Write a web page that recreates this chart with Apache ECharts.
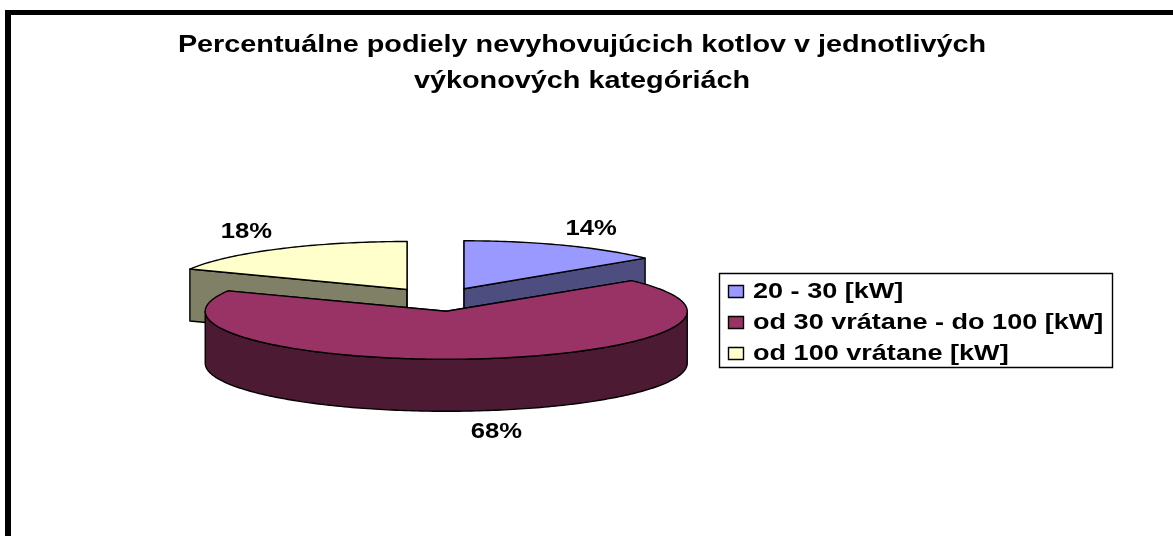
<!DOCTYPE html>
<html>
<head>
<meta charset="utf-8">
<style>html,body{margin:0;padding:0;background:#fff}#c{width:1173px;height:536px}</style>
<script src="https://cdn.jsdelivr.net/npm/echarts@6/dist/echarts.min.js"></script>
</head>
<body>
<div id="c"></div>
<script>
const categories = ['20 - 30 [kW]', 'od 30 vrátane - do 100 [kW]', 'od 100 vrátane [kW]'];
const values = [14, 68, 18];
const topColors = ['#9999FF', '#993366', '#FFFFCC'];
const sideColors = ['#4D4D80', '#4D1A33', '#808066'];
const titleLines = ['Percentuálne podiely nevyhovujúcich kotlov v jednotlivých', 'výkonových kategóriách'];
const labelShift = [[27, -18], [20, 20], [-32, -18]];
const sliceRadiusX = [235, 241, 240];

const CX = 438.8, CY = 299.5, RX = 240, RY = 48, DEPTH = 52, EXPLODE = 0.247;
const FAMILY = '"Liberation Sans", Arial, sans-serif';
const total = values.reduce((a, b) => a + b, 0);
const rad = d => d * Math.PI / 180;

function renderSlice(params, api) {
  const i = params.seriesIndex;
  const v = api.value(0);
  let before = 0;
  for (let k = 0; k < i; k++) before += values[k];
  const a0 = -90 + before / total * 360;
  const a1 = a0 + v / total * 360;
  const mid = (a0 + a1) / 2;
  const ox = CX + EXPLODE * RX * Math.cos(rad(mid));
  const oy = CY + EXPLODE * RY * Math.sin(rad(mid));
  const rx = sliceRadiusX[i];
  const pt = (t, d) => [ox + rx * Math.cos(rad(t)), oy + RY * Math.sin(rad(t)) + (d || 0)];
  const base = { stroke: '#000', lineWidth: 1.4, lineJoin: 'round' };
  const children = [];
  const face = (pts, fill) => children.push({ type: 'polygon', shape: { points: pts }, style: Object.assign({ fill: fill }, base) });

  face([[ox, oy], pt(a0), pt(a0, DEPTH), [ox, oy + DEPTH]], sideColors[i]);
  face([[ox, oy], pt(a1), pt(a1, DEPTH), [ox, oy + DEPTH]], sideColors[i]);

  const s = Math.max(a0, 0), e = Math.min(a1, 180);
  if (e > s) {
    const top = [], bottom = [];
    for (let t = s; t <= e; t += 1) { top.push(pt(t)); bottom.unshift(pt(t, DEPTH)); }
    face(top.concat(bottom), sideColors[i]);
  }
  const wedge = [[ox, oy]];
  for (let t = a0; t < a1; t += 1) wedge.push(pt(t));
  wedge.push(pt(a1));
  face(wedge, topColors[i]);

  const edge = pt(mid, mid > 0 && mid < 180 ? DEPTH : 0);
  children.push({
    type: 'text',
    x: edge[0] + labelShift[i][0], y: edge[1] + labelShift[i][1] + 1, scaleX: 1.14,
    style: {
      text: v + '%', x: 0, y: 0, align: 'center', verticalAlign: 'middle',
      font: 'bold 22.5px ' + FAMILY, fill: '#000'
    }
  });
  return { type: 'group', children: children };
}

const graphics = [
  { type: 'rect', shape: { x: 5, y: 10, width: 6, height: 526 }, style: { fill: '#000' } },
  { type: 'rect', shape: { x: 5, y: 10, width: 1168, height: 5 }, style: { fill: '#000' } },
  { type: 'rect', z: 10, shape: { x: 719.5, y: 273.5, width: 393, height: 94 }, style: { fill: '#fff', stroke: '#000', lineWidth: 1.4 } }
];
titleLines.forEach((line, i) => graphics.push({
  type: 'text', z: 10, x: 582, y: 45 + i * 36, scaleX: 1.2,
  style: { text: line, x: 0, y: 0, align: 'center', verticalAlign: 'middle', font: 'bold 24px ' + FAMILY, fill: '#000' }
}));
categories.forEach((name, i) => {
  const y = 292 + i * 31;
  graphics.push({ type: 'rect', z: 11, shape: { x: 728.5, y: y - 6.5, width: 15, height: 12 }, style: { fill: topColors[i], stroke: '#000', lineWidth: 1.4 } });
  graphics.push({
    type: 'text', z: 11, x: 753, y: y, scaleX: 1.23,
    style: { text: name, x: 0, y: 0, align: 'left', verticalAlign: 'middle', font: 'bold 22px ' + FAMILY, fill: '#000' }
  });
});

const chart = echarts.init(document.getElementById('c'), null, { renderer: 'canvas' });
chart.setOption({
  animation: false,
  backgroundColor: '#fff',
  graphic: graphics,
  series: categories.map((name, i) => ({
    type: 'custom', name: name, coordinateSystem: 'none', z: i === 1 ? 3 : 2,
    itemStyle: { color: topColors[i] },
    renderItem: renderSlice,
    data: [[values[i]]]
  }))
});
</script>
</body>
</html>
